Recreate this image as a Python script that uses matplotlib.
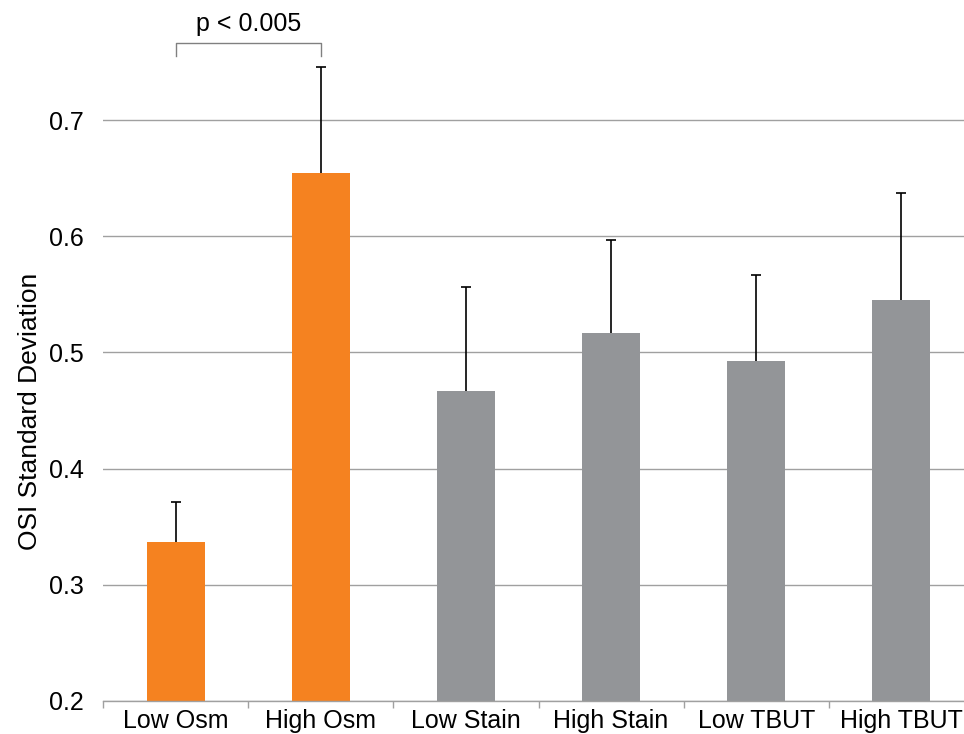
import matplotlib.pyplot as plt
import numpy as np

plt.rcParams['font.family'] = ['Liberation Sans', 'DejaVu Sans']

groups = ['Low Osm', 'High Osm', 'Low Stain', 'High Stain', 'Low TBUT', 'High TBUT']
means = [0.337, 0.654, 0.467, 0.517, 0.493, 0.545]
upper_err = [0.034, 0.092, 0.089, 0.080, 0.074, 0.092]
bar_colors = ['#f58220', '#f58220', '#939598', '#939598', '#939598', '#939598']
yticks = [0.2, 0.3, 0.4, 0.5, 0.6, 0.7]

fig = plt.figure(figsize=(9.64, 7.34), dpi=100)
# axes runs a little past the right edge of the figure
ax = fig.add_axes([103 / 964, 33 / 734, 871 / 964, 668 / 734])

x = np.arange(len(groups))
ax.bar(x, means, width=0.4, color=bar_colors, zorder=2)
eb = ax.errorbar(x, means, yerr=[np.zeros(len(means)), upper_err], fmt='none',
                 ecolor='black', elinewidth=1.2, capsize=3.5, capthick=1.2, zorder=3)
# only the upper whisker gets a cap
eb[1][0].set_visible(False)

ax.set_xlim(-0.5, len(groups) - 0.5)
ax.set_ylim(0.2, 0.2 + 668 / 1162)
ax.set_yticks(yticks)
ax.set_yticklabels([f'{v:.1f}' for v in yticks])
ax.yaxis.grid(True, color='#a0a0a0', linewidth=1)
ax.set_axisbelow(True)

# category separators on the x axis
ax.set_xticks(x)
ax.set_xticklabels(groups)
ax.set_xticks(np.arange(-0.5, len(groups)), minor=True)
ax.tick_params(axis='x', which='major', length=0, labelsize=18, pad=6)
ax.tick_params(axis='x', which='minor', length=5, color='#a0a0a0', width=1)
ax.tick_params(axis='y', length=0, labelsize=18, pad=14)

for side in ['top', 'right', 'left']:
    ax.spines[side].set_visible(False)
ax.spines['bottom'].set_color('#a0a0a0')
ax.spines['bottom'].set_linewidth(1)

ax.set_ylabel('OSI Standard Deviation', fontsize=19, labelpad=5, y=0.433)

# significance bracket between the two osmolarity groups
y_br = 0.2 + (701 - 43) / 1162
y_leg = 0.2 + (701 - 56) / 1162
ax.plot([0, 0, 1, 1], [y_leg, y_br, y_br, y_leg], color='#808080', linewidth=1,
        clip_on=False)
ax.text(0.5, y_br + 0.006, 'p < 0.005', ha='center', va='bottom', fontsize=18)

plt.savefig('out.png', dpi=100)
